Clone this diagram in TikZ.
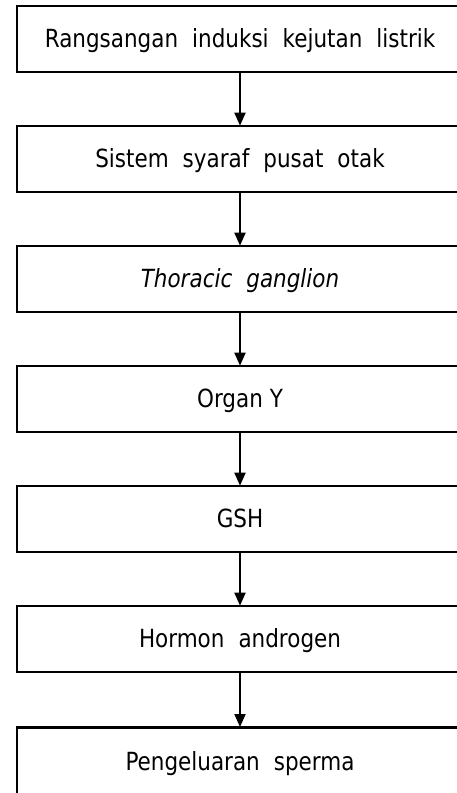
\documentclass[tikz,border=0pt]{standalone}
\usepackage{fontspec}
\setmainfont{DejaVu Sans}[FakeStretch=0.86]
\usetikzlibrary{arrows.meta}
\newcommand{\myboxfont}{\fontsize{25}{29}\selectfont\spaceskip=14pt plus 1pt\relax}
\tikzset{
  box/.style={draw=black, line width=2.7pt, minimum width=446pt, minimum height=66pt, inner sep=0pt,
    text height=18pt, text depth=2pt, font=\myboxfont},
  flow/.style={line width=2pt, -{Triangle[length=13pt,width=11pt]}, shorten >=-1pt}
}
\begin{document}
\begin{tikzpicture}[x=1pt,y=1pt]
\useasboundingbox[fill=white] (0,0) rectangle (456,-793);
\node[box] (b1) at (240,-39) {Rangsangan induksi kejutan listrik};
\node[box] (b2) at (240,-159) {Sistem syaraf pusat otak};
\node[box] (b3) at (240,-279) {\itshape Thoracic ganglion};
\node[box] (b4) at (240,-399) {Organ\spaceskip=0pt\relax{} Y};
\node[box] (b5) at (240,-519) {GSH};
\node[box] (b6) at (240,-639) {Hormon androgen};
\node[box, minimum height=70pt, anchor=north] (b7) at (240,-726) {Pengeluaran sperma};
\draw[flow] (b1) -- (b2);
\draw[flow] (b2) -- (b3);
\draw[flow] (b3) -- (b4);
\draw[flow] (b4) -- (b5);
\draw[flow] (b5) -- (b6);
\draw[flow] (b6) -- (b7);
\end{tikzpicture}
\end{document}
